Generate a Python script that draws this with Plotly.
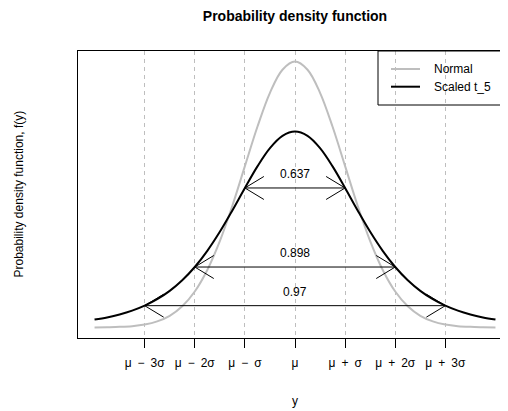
import plotly.graph_objects as go

# ---- data ----
x_vals = [-4.0, -3.75, -3.5, -3.25, -3.0, -2.75, -2.5, -2.25, -2.0, -1.75, -1.5, -1.25,
          -1.0, -0.75, -0.5, -0.25, 0.0, 0.25, 0.5, 0.75, 1.0, 1.25, 1.5, 1.75,
          2.0, 2.25, 2.5, 2.75, 3.0, 3.25, 3.5, 3.75, 4.0]
normal_vals = [0.0001, 0.0004, 0.0009, 0.0020, 0.0044, 0.0091, 0.0175, 0.0317, 0.0540,
               0.0863, 0.1295, 0.1826, 0.2420, 0.3011, 0.3521, 0.3867, 0.3989,
               0.3867, 0.3521, 0.3011, 0.2420, 0.1826, 0.1295, 0.0863, 0.0540,
               0.0317, 0.0175, 0.0091, 0.0044, 0.0020, 0.0009, 0.0004, 0.0001]
t5_vals = [0.0118, 0.0151, 0.0195, 0.0252, 0.0327, 0.0424, 0.0549, 0.0708, 0.0907,
           0.1150, 0.1435, 0.1756, 0.2093, 0.2417, 0.2691, 0.2875, 0.2940,
           0.2875, 0.2691, 0.2417, 0.2093, 0.1756, 0.1435, 0.1150, 0.0907,
           0.0708, 0.0549, 0.0424, 0.0327, 0.0252, 0.0195, 0.0151, 0.0118]
tick_vals = [-3, -2, -1, 0, 1, 2, 3]
tick_labels = ["μ\u2002−\u20023σ", "μ\u2002−\u20022σ", "μ\u2002−\u2002σ", "μ",
               "μ\u2002+\u2002σ", "μ\u2002+\u20022σ", "μ\u2002+\u20023σ"]
interval_k = [1, 2, 3]
interval_labels = ["0.637", "0.898", "0.97"]
series_names = ["Normal", "Scaled t_5"]
series_colors = ["#BEBEBE", "#000000"]

# ---- layout geometry (page pixels; page body has an 8px margin) ----
OFF = 8
W, H = 508 - OFF, 411 - OFF
ML, MR, MT, MB = 78 - OFF, 0, 51 - OFF, 411 - 338
PW, PH = W - ML - MR, H - MT - MB
XR = [-4.33, 4.25]
YR = [-0.0158, 0.4148]
FONT = "Liberation Sans, Arial, Helvetica, sans-serif"

def px2paper_x(px):  # px in page pixels
    return (px - OFF - ML) / PW

def px2paper_y(py):
    return (H - MB - (py - OFF)) / PH

x_per_px = (XR[1] - XR[0]) / PW
y_per_px = (YR[1] - YR[0]) / PH

fig = go.Figure()

fig.add_trace(go.Scatter(x=x_vals, y=normal_vals, mode="lines", name=series_names[0],
                         line=dict(color=series_colors[0], width=2, shape="spline"),
                         showlegend=False, hoverinfo="skip"))
fig.add_trace(go.Scatter(x=x_vals, y=t5_vals, mode="lines", name=series_names[1],
                         line=dict(color=series_colors[1], width=2, shape="spline"),
                         showlegend=False, hoverinfo="skip"))

# ---- double-headed open arrows ----
bdx = 19 * x_per_px
bdy = 11.5 * y_per_px
ax, ay = [], []
for k, lab in zip(interval_k, interval_labels):
    h = t5_vals[x_vals.index(float(k))]
    ax += [-k, k, None]
    ay += [h, h, None]
    for tip, sgn in ((-k, 1), (k, -1)):
        ax += [tip + sgn * bdx, tip, tip + sgn * bdx, None]
        ay += [h + bdy, h, h - bdy, None]
    fig.add_annotation(x=0, y=h, text=lab, showarrow=False, yshift=14,
                       font=dict(size=12, color="black", family=FONT))
fig.add_trace(go.Scatter(x=ax, y=ay, mode="lines", line=dict(color="black", width=1),
                         showlegend=False, hoverinfo="skip"))

# ---- manual legend (R style) ----
lx0, lx1 = px2paper_x(378), 1.0
ly0, ly1 = px2paper_y(105), 1.0
fig.add_shape(type="rect", xref="paper", yref="paper", x0=lx0, x1=lx1, y0=ly0, y1=ly1,
              line=dict(color="black", width=1), fillcolor="rgba(0,0,0,0)")
for name, col, py in zip(series_names, series_colors, [69, 86.7]):
    fig.add_shape(type="line", xref="paper", yref="paper",
                  x0=px2paper_x(391), x1=px2paper_x(420), y0=px2paper_y(py), y1=px2paper_y(py),
                  line=dict(color=col, width=2))
    fig.add_annotation(xref="paper", yref="paper", x=px2paper_x(431.5), y=px2paper_y(py),
                       text=name, showarrow=False, xanchor="left", yanchor="middle",
                       font=dict(size=12, color="black", family=FONT))

# ---- axis titles ----
fig.add_annotation(xref="paper", yref="paper", x=px2paper_x(18), y=px2paper_y(194.5),
                   text="Probability density function, f(y)", textangle=-90, showarrow=False,
                   xanchor="center", yanchor="middle", font=dict(size=12, color="black", family=FONT))
fig.add_annotation(xref="paper", yref="paper", x=px2paper_x(295), y=px2paper_y(401),
                   text="y", showarrow=False, xanchor="center", yanchor="middle",
                   font=dict(size=12, color="black", family=FONT))

fig.update_layout(
    width=W, height=H,
    margin=dict(l=ML, r=MR, t=MT, b=MB, pad=0),
    paper_bgcolor="white", plot_bgcolor="white",
    title=dict(text="<b>Probability density function</b>", x=(295 - OFF) / W, xanchor="center",
               y=1 - (16 - OFF) / H, yanchor="middle", font=dict(size=14, color="black", family=FONT)),
    font=dict(family=FONT, size=12, color="black"),
    xaxis=dict(range=XR, tickmode="array", tickvals=tick_vals, ticktext=tick_labels,
               ticks="outside", ticklen=9, tickwidth=1, tickcolor="black", ticklabelstandoff=5,
               showline=True, linecolor="black", linewidth=1, mirror=True,
               showgrid=True, gridcolor="#BEBEBE", gridwidth=1, griddash="4px,4px",
               zeroline=False, tickfont=dict(size=12, color="black", family=FONT)),
    yaxis=dict(range=YR, showticklabels=False, ticks="", showgrid=False, zeroline=False,
               showline=True, linecolor="black", linewidth=1, mirror=True),
    showlegend=False,
)

fig.write_html("out.html")
